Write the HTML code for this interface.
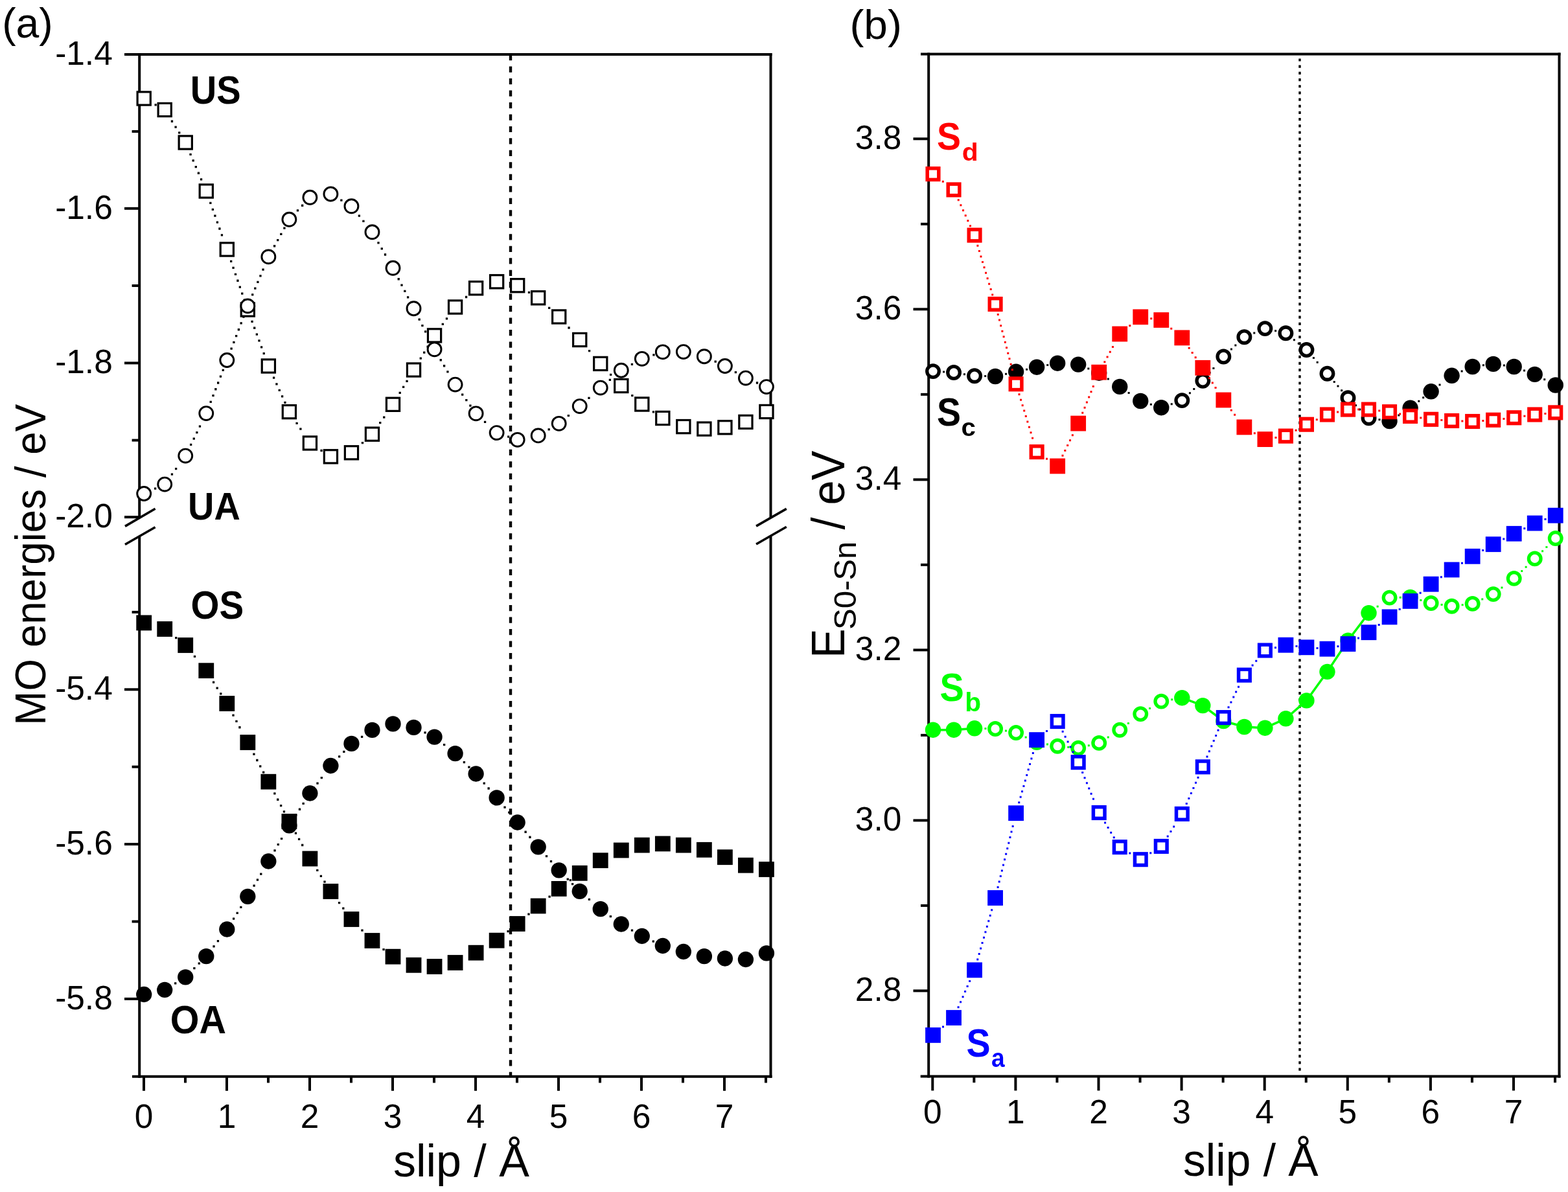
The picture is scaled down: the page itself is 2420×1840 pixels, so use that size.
<!DOCTYPE html><html><head><meta charset="utf-8"><title>slip MO energies</title><style>html,body{margin:0;padding:0;background:#fff;}svg{display:block;}</style></head><body><svg xmlns="http://www.w3.org/2000/svg" width="2420" height="1840" viewBox="0 0 2420 1840"><rect width="2420" height="1840" fill="#fff"/><line x1="788" y1="84" x2="788" y2="1660" stroke="#000" stroke-width="4.4" stroke-dasharray="9.24 9.24"/><g stroke="#000" stroke-width="4" fill="none" stroke-linecap="butt"><line x1="192" y1="84" x2="1191.5" y2="84"/><line x1="204" y1="1661.8" x2="1191.5" y2="1661.8"/><line x1="215.2" y1="82" x2="215.2" y2="799.6"/><line x1="215.2" y1="827.9" x2="215.2" y2="1663.8"/><line x1="1189.5" y1="82" x2="1189.5" y2="799.3"/><line x1="1189.5" y1="827" x2="1189.5" y2="1663.8"/><line x1="193" y1="812.4" x2="239.6" y2="785.2" stroke-width="3.6"/><line x1="193" y1="840.5" x2="239.6" y2="813.8" stroke-width="3.6"/><line x1="1167.1" y1="812.1" x2="1213.8" y2="785.4" stroke-width="3.6"/><line x1="1167.1" y1="840" x2="1213.8" y2="813.3" stroke-width="3.6"/><line x1="203.6" y1="202.9" x2="215.2" y2="202.9"/><line x1="192" y1="321.8" x2="215.2" y2="321.8"/><line x1="203.6" y1="441" x2="215.2" y2="441"/><line x1="192" y1="560.4" x2="215.2" y2="560.4"/><line x1="203.6" y1="679.6" x2="215.2" y2="679.6"/><line x1="192" y1="798.2" x2="215.2" y2="798.2"/><line x1="203.6" y1="944.9" x2="215.2" y2="944.9"/><line x1="192" y1="1064.3" x2="215.2" y2="1064.3"/><line x1="203.6" y1="1183.7" x2="215.2" y2="1183.7"/><line x1="192" y1="1303.1" x2="215.2" y2="1303.1"/><line x1="203.6" y1="1422.5" x2="215.2" y2="1422.5"/><line x1="192" y1="1541.9" x2="215.2" y2="1541.9"/><line x1="222" y1="1661.8" x2="222" y2="1683.8"/><line x1="286" y1="1661.8" x2="286" y2="1671.5"/><line x1="350" y1="1661.8" x2="350" y2="1683.8"/><line x1="414" y1="1661.8" x2="414" y2="1671.5"/><line x1="478" y1="1661.8" x2="478" y2="1683.8"/><line x1="542" y1="1661.8" x2="542" y2="1671.5"/><line x1="606" y1="1661.8" x2="606" y2="1683.8"/><line x1="670" y1="1661.8" x2="670" y2="1671.5"/><line x1="734" y1="1661.8" x2="734" y2="1683.8"/><line x1="798" y1="1661.8" x2="798" y2="1671.5"/><line x1="862" y1="1661.8" x2="862" y2="1683.8"/><line x1="926" y1="1661.8" x2="926" y2="1671.5"/><line x1="990" y1="1661.8" x2="990" y2="1683.8"/><line x1="1054" y1="1661.8" x2="1054" y2="1671.5"/><line x1="1118" y1="1661.8" x2="1118" y2="1683.8"/><line x1="1182" y1="1661.8" x2="1182" y2="1671.5"/></g><path fill="#000" d="M238.52 160.17h3.3v3.3h-3.3zM263.82 185.59h3.3v3.3h-3.3zM269.45 194.46h3.3v3.3h-3.3zM275.07 203.32h3.3v3.3h-3.3zM292.4 236.63h3.3v3.3h-3.3zM296.53 246.28h3.3v3.3h-3.3zM300.65 255.94h3.3v3.3h-3.3zM304.77 265.6h3.3v3.3h-3.3zM308.9 275.25h3.3v3.3h-3.3zM323.19 311.79h3.3v3.3h-3.3zM326.71 321.68h3.3v3.3h-3.3zM330.23 331.57h3.3v3.3h-3.3zM333.75 341.46h3.3v3.3h-3.3zM337.27 351.36h3.3v3.3h-3.3zM340.79 361.25h3.3v3.3h-3.3zM355.01 401.81h3.3v3.3h-3.3zM358.43 411.74h3.3v3.3h-3.3zM361.84 421.67h3.3v3.3h-3.3zM365.26 431.59h3.3v3.3h-3.3zM368.68 441.52h3.3v3.3h-3.3zM372.1 451.45h3.3v3.3h-3.3zM375.52 461.38h3.3v3.3h-3.3zM387.45 494.76h3.3v3.3h-3.3zM391.08 504.61h3.3v3.3h-3.3zM394.71 514.47h3.3v3.3h-3.3zM398.33 524.32h3.3v3.3h-3.3zM401.96 534.17h3.3v3.3h-3.3zM405.59 544.03h3.3v3.3h-3.3zM420.95 581.56h3.3v3.3h-3.3zM425.28 591.13h3.3v3.3h-3.3zM429.61 600.69h3.3v3.3h-3.3zM433.95 610.26h3.3v3.3h-3.3zM438.28 619.82h3.3v3.3h-3.3zM456.43 651.71h3.3v3.3h-3.3zM462.24 660.46h3.3v3.3h-3.3zM494.45 693.84h3.3v3.3h-3.3zM557.83 681.94h3.3v3.3h-3.3zM585.08 650.99h3.3v3.3h-3.3zM591.09 642.38h3.3v3.3h-3.3zM615.56 604.82h3.3v3.3h-3.3zM620.97 595.82h3.3v3.3h-3.3zM626.38 586.82h3.3v3.3h-3.3zM647.62 551.53h3.3v3.3h-3.3zM653.05 542.54h3.3v3.3h-3.3zM658.47 533.54h3.3v3.3h-3.3zM681.65 498.77h3.3v3.3h-3.3zM687.84 490.29h3.3v3.3h-3.3zM717.91 456.86h3.3v3.3h-3.3zM814.84 449.69h3.3v3.3h-3.3zM846.01 473.64h3.3v3.3h-3.3zM876.39 504.36h3.3v3.3h-3.3zM907.92 539.95h3.3v3.3h-3.3zM940.98 576.66h3.3v3.3h-3.3zM974.17 609.02h3.3v3.3h-3.3zM1006.79 634.19h3.3v3.3h-3.3z"/><path fill="#000" d="M237.95 752.53h3.3v3.3h-3.3zM263.8 730.53h3.3v3.3h-3.3zM269.98 722.04h3.3v3.3h-3.3zM292.98 684.81h3.3v3.3h-3.3zM297.59 675.38h3.3v3.3h-3.3zM302.2 665.95h3.3v3.3h-3.3zM306.81 656.51h3.3v3.3h-3.3zM323.56 618.68h3.3v3.3h-3.3zM327.37 608.9h3.3v3.3h-3.3zM331.19 599.11h3.3v3.3h-3.3zM335 589.33h3.3v3.3h-3.3zM338.82 579.55h3.3v3.3h-3.3zM342.64 569.77h3.3v3.3h-3.3zM355.47 536.54h3.3v3.3h-3.3zM359.23 526.73h3.3v3.3h-3.3zM362.99 516.93h3.3v3.3h-3.3zM366.74 507.12h3.3v3.3h-3.3zM370.5 497.32h3.3v3.3h-3.3zM374.25 487.51h3.3v3.3h-3.3zM388.08 453.17h3.3v3.3h-3.3zM392.16 443.5h3.3v3.3h-3.3zM396.24 433.82h3.3v3.3h-3.3zM400.31 424.14h3.3v3.3h-3.3zM404.39 414.47h3.3v3.3h-3.3zM421.97 378.08h3.3v3.3h-3.3zM427.07 368.9h3.3v3.3h-3.3zM432.17 359.72h3.3v3.3h-3.3zM437.28 350.55h3.3v3.3h-3.3zM457.8 323.26h3.3v3.3h-3.3zM465 315.62h3.3v3.3h-3.3zM525.22 307.51h3.3v3.3h-3.3zM552.72 331.54h3.3v3.3h-3.3zM559.28 339.74h3.3v3.3h-3.3zM582.36 373.17h3.3v3.3h-3.3zM587.61 382.27h3.3v3.3h-3.3zM592.85 391.36h3.3v3.3h-3.3zM613.56 429.12h3.3v3.3h-3.3zM618.35 438.46h3.3v3.3h-3.3zM623.15 447.8h3.3v3.3h-3.3zM627.94 457.15h3.3v3.3h-3.3zM645.51 491.56h3.3v3.3h-3.3zM650.26 500.92h3.3v3.3h-3.3zM655.01 510.29h3.3v3.3h-3.3zM659.76 519.65h3.3v3.3h-3.3zM678.59 554.08h3.3v3.3h-3.3zM683.92 563.12h3.3v3.3h-3.3zM689.26 572.17h3.3v3.3h-3.3zM712.03 607.46h3.3v3.3h-3.3zM718.15 615.99h3.3v3.3h-3.3zM724.26 624.53h3.3v3.3h-3.3zM746.91 649.64h3.3v3.3h-3.3zM783.07 672.49h3.3v3.3h-3.3zM845.52 661.17h3.3v3.3h-3.3zM875.7 639.94h3.3v3.3h-3.3zM907.32 612.77h3.3v3.3h-3.3zM939.71 584.68h3.3v3.3h-3.3zM973.78 560.74h3.3v3.3h-3.3zM1007.28 546.21h3.3v3.3h-3.3zM1102.54 556.55h3.3v3.3h-3.3zM1133.74 572.93h3.3v3.3h-3.3zM1166.85 589.36h3.3v3.3h-3.3z"/><path fill="#000" d="M270.11 983.04h3.3v3.3h-3.3zM298.85 1011.79h3.3v3.3h-3.3zM327.94 1051.5h3.3v3.3h-3.3zM333.54 1060.38h3.3v3.3h-3.3zM339.14 1069.26h3.3v3.3h-3.3zM358.37 1102.56h3.3v3.3h-3.3zM363.31 1111.82h3.3v3.3h-3.3zM368.26 1121.08h3.3v3.3h-3.3zM390.29 1162.57h3.3v3.3h-3.3zM395.19 1171.86h3.3v3.3h-3.3zM400.09 1181.15h3.3v3.3h-3.3zM404.99 1190.43h3.3v3.3h-3.3zM422.23 1223.29h3.3v3.3h-3.3zM427.09 1232.59h3.3v3.3h-3.3zM431.95 1241.9h3.3v3.3h-3.3zM436.81 1251.21h3.3v3.3h-3.3zM454.83 1284.5h3.3v3.3h-3.3zM459.94 1293.67h3.3v3.3h-3.3zM465.05 1302.84h3.3v3.3h-3.3zM488.13 1341.79h3.3v3.3h-3.3zM493.75 1350.66h3.3v3.3h-3.3zM499.37 1359.52h3.3v3.3h-3.3zM521.91 1391.98h3.3v3.3h-3.3zM528.18 1400.41h3.3v3.3h-3.3zM557.33 1434.38h3.3v3.3h-3.3zM590.39 1463.89h3.3v3.3h-3.3zM782.45 1436.03h3.3v3.3h-3.3zM814.32 1409.47h3.3v3.3h-3.3zM846.43 1382.4h3.3v3.3h-3.3zM878.66 1357h3.3v3.3h-3.3z"/><path fill="#000" d="M269.04 1516.18h3.3v3.3h-3.3zM298.23 1492.99h3.3v3.3h-3.3zM305.65 1485.55h3.3v3.3h-3.3zM328.38 1459.24h3.3v3.3h-3.3zM334.78 1450.92h3.3v3.3h-3.3zM358.96 1416.53h3.3v3.3h-3.3zM364.56 1407.66h3.3v3.3h-3.3zM370.17 1398.78h3.3v3.3h-3.3zM390.48 1365.53h3.3v3.3h-3.3zM395.81 1356.48h3.3v3.3h-3.3zM401.15 1347.44h3.3v3.3h-3.3zM422.39 1311.16h3.3v3.3h-3.3zM427.65 1302.07h3.3v3.3h-3.3zM432.92 1292.99h3.3v3.3h-3.3zM455.16 1256.42h3.3v3.3h-3.3zM460.84 1247.59h3.3v3.3h-3.3zM466.52 1238.75h3.3v3.3h-3.3zM488.36 1207.44h3.3v3.3h-3.3zM494.68 1199.05h3.3v3.3h-3.3zM521.99 1166.28h3.3v3.3h-3.3zM529.18 1158.63h3.3v3.3h-3.3zM556.94 1135.67h3.3v3.3h-3.3zM654.42 1129.3h3.3v3.3h-3.3zM683.98 1148h3.3v3.3h-3.3zM714.73 1175.04h3.3v3.3h-3.3zM722.24 1182.38h3.3v3.3h-3.3zM745.6 1207.43h3.3v3.3h-3.3zM752.48 1215.36h3.3v3.3h-3.3zM777.39 1244.52h3.3v3.3h-3.3zM784.15 1252.56h3.3v3.3h-3.3zM809.48 1282.58h3.3v3.3h-3.3zM816.26 1290.59h3.3v3.3h-3.3zM841.85 1320.07h3.3v3.3h-3.3zM848.83 1327.92h3.3v3.3h-3.3zM874.6 1355.4h3.3v3.3h-3.3zM881.97 1362.88h3.3v3.3h-3.3zM907.74 1386.7h3.3v3.3h-3.3zM940.71 1412.9h3.3v3.3h-3.3zM973.84 1434.5h3.3v3.3h-3.3zM1006.63 1451.54h3.3v3.3h-3.3z"/><rect x="212.1" y="141.9" width="20.2" height="20.2" fill="#fff" stroke="#000" stroke-width="3.2"/><rect x="244.12" y="159.4" width="20.2" height="20.2" fill="#fff" stroke="#000" stroke-width="3.2"/><rect x="276.15" y="209.9" width="20.2" height="20.2" fill="#fff" stroke="#000" stroke-width="3.2"/><rect x="308.17" y="284.9" width="20.2" height="20.2" fill="#fff" stroke="#000" stroke-width="3.2"/><rect x="340.2" y="374.9" width="20.2" height="20.2" fill="#fff" stroke="#000" stroke-width="3.2"/><rect x="372.22" y="467.9" width="20.2" height="20.2" fill="#fff" stroke="#000" stroke-width="3.2"/><rect x="404.25" y="554.9" width="20.2" height="20.2" fill="#fff" stroke="#000" stroke-width="3.2"/><rect x="436.27" y="625.6" width="20.2" height="20.2" fill="#fff" stroke="#000" stroke-width="3.2"/><rect x="468.3" y="673.9" width="20.2" height="20.2" fill="#fff" stroke="#000" stroke-width="3.2"/><rect x="500.32" y="694.7" width="20.2" height="20.2" fill="#fff" stroke="#000" stroke-width="3.2"/><rect x="532.35" y="688.7" width="20.2" height="20.2" fill="#fff" stroke="#000" stroke-width="3.2"/><rect x="564.37" y="660.1" width="20.2" height="20.2" fill="#fff" stroke="#000" stroke-width="3.2"/><rect x="596.4" y="614.2" width="20.2" height="20.2" fill="#fff" stroke="#000" stroke-width="3.2"/><rect x="628.42" y="560.9" width="20.2" height="20.2" fill="#fff" stroke="#000" stroke-width="3.2"/><rect x="660.45" y="507.8" width="20.2" height="20.2" fill="#fff" stroke="#000" stroke-width="3.2"/><rect x="692.48" y="463.9" width="20.2" height="20.2" fill="#fff" stroke="#000" stroke-width="3.2"/><rect x="724.5" y="434.7" width="20.2" height="20.2" fill="#fff" stroke="#000" stroke-width="3.2"/><rect x="756.52" y="424.7" width="20.2" height="20.2" fill="#fff" stroke="#000" stroke-width="3.2"/><rect x="788.55" y="430.6" width="20.2" height="20.2" fill="#fff" stroke="#000" stroke-width="3.2"/><rect x="820.57" y="449.7" width="20.2" height="20.2" fill="#fff" stroke="#000" stroke-width="3.2"/><rect x="852.6" y="478.9" width="20.2" height="20.2" fill="#fff" stroke="#000" stroke-width="3.2"/><rect x="884.62" y="514.4" width="20.2" height="20.2" fill="#fff" stroke="#000" stroke-width="3.2"/><rect x="916.65" y="551.3" width="20.2" height="20.2" fill="#fff" stroke="#000" stroke-width="3.2"/><rect x="948.67" y="585.4" width="20.2" height="20.2" fill="#fff" stroke="#000" stroke-width="3.2"/><rect x="980.7" y="613.9" width="20.2" height="20.2" fill="#fff" stroke="#000" stroke-width="3.2"/><rect x="1012.73" y="635.4" width="20.2" height="20.2" fill="#fff" stroke="#000" stroke-width="3.2"/><rect x="1044.75" y="648.5" width="20.2" height="20.2" fill="#fff" stroke="#000" stroke-width="3.2"/><rect x="1076.78" y="652" width="20.2" height="20.2" fill="#fff" stroke="#000" stroke-width="3.2"/><rect x="1108.8" y="649.7" width="20.2" height="20.2" fill="#fff" stroke="#000" stroke-width="3.2"/><rect x="1140.83" y="641.3" width="20.2" height="20.2" fill="#fff" stroke="#000" stroke-width="3.2"/><rect x="1172.85" y="625.4" width="20.2" height="20.2" fill="#fff" stroke="#000" stroke-width="3.2"/><circle cx="222.2" cy="762" r="10.45" fill="#fff" stroke="#000" stroke-width="2.95"/><circle cx="254.22" cy="747.6" r="10.45" fill="#fff" stroke="#000" stroke-width="2.95"/><circle cx="286.25" cy="703.6" r="10.45" fill="#fff" stroke="#000" stroke-width="2.95"/><circle cx="318.27" cy="638.1" r="10.45" fill="#fff" stroke="#000" stroke-width="2.95"/><circle cx="350.3" cy="556" r="10.45" fill="#fff" stroke="#000" stroke-width="2.95"/><circle cx="382.32" cy="472.4" r="10.45" fill="#fff" stroke="#000" stroke-width="2.95"/><circle cx="414.35" cy="396.4" r="10.45" fill="#fff" stroke="#000" stroke-width="2.95"/><circle cx="446.38" cy="338.8" r="10.45" fill="#fff" stroke="#000" stroke-width="2.95"/><circle cx="478.4" cy="304.8" r="10.45" fill="#fff" stroke="#000" stroke-width="2.95"/><circle cx="510.42" cy="299.5" r="10.45" fill="#fff" stroke="#000" stroke-width="2.95"/><circle cx="542.45" cy="318.3" r="10.45" fill="#fff" stroke="#000" stroke-width="2.95"/><circle cx="574.47" cy="358.3" r="10.45" fill="#fff" stroke="#000" stroke-width="2.95"/><circle cx="606.5" cy="413.8" r="10.45" fill="#fff" stroke="#000" stroke-width="2.95"/><circle cx="638.52" cy="476.2" r="10.45" fill="#fff" stroke="#000" stroke-width="2.95"/><circle cx="670.55" cy="539.3" r="10.45" fill="#fff" stroke="#000" stroke-width="2.95"/><circle cx="702.58" cy="593.6" r="10.45" fill="#fff" stroke="#000" stroke-width="2.95"/><circle cx="734.6" cy="638.3" r="10.45" fill="#fff" stroke="#000" stroke-width="2.95"/><circle cx="766.62" cy="668.1" r="10.45" fill="#fff" stroke="#000" stroke-width="2.95"/><circle cx="798.65" cy="678.8" r="10.45" fill="#fff" stroke="#000" stroke-width="2.95"/><circle cx="830.67" cy="672.4" r="10.45" fill="#fff" stroke="#000" stroke-width="2.95"/><circle cx="862.7" cy="653.8" r="10.45" fill="#fff" stroke="#000" stroke-width="2.95"/><circle cx="894.72" cy="627.1" r="10.45" fill="#fff" stroke="#000" stroke-width="2.95"/><circle cx="926.75" cy="598.6" r="10.45" fill="#fff" stroke="#000" stroke-width="2.95"/><circle cx="958.77" cy="571.7" r="10.45" fill="#fff" stroke="#000" stroke-width="2.95"/><circle cx="990.8" cy="553.8" r="10.45" fill="#fff" stroke="#000" stroke-width="2.95"/><circle cx="1022.83" cy="543.3" r="10.45" fill="#fff" stroke="#000" stroke-width="2.95"/><circle cx="1054.85" cy="543.1" r="10.45" fill="#fff" stroke="#000" stroke-width="2.95"/><circle cx="1086.88" cy="550.2" r="10.45" fill="#fff" stroke="#000" stroke-width="2.95"/><circle cx="1118.9" cy="565" r="10.45" fill="#fff" stroke="#000" stroke-width="2.95"/><circle cx="1150.92" cy="583.6" r="10.45" fill="#fff" stroke="#000" stroke-width="2.95"/><circle cx="1182.95" cy="597.1" r="10.45" fill="#fff" stroke="#000" stroke-width="2.95"/><rect x="210.3" y="949.5" width="23.8" height="23.8" fill="#000"/><rect x="242.32" y="959.1" width="23.8" height="23.8" fill="#000"/><rect x="274.35" y="984.1" width="23.8" height="23.8" fill="#000"/><rect x="306.38" y="1023.3" width="23.8" height="23.8" fill="#000"/><rect x="338.4" y="1074.1" width="23.8" height="23.8" fill="#000"/><rect x="370.43" y="1134.1" width="23.8" height="23.8" fill="#000"/><rect x="402.45" y="1194.8" width="23.8" height="23.8" fill="#000"/><rect x="434.48" y="1256.1" width="23.8" height="23.8" fill="#000"/><rect x="466.5" y="1313.6" width="23.8" height="23.8" fill="#000"/><rect x="498.52" y="1364.1" width="23.8" height="23.8" fill="#000"/><rect x="530.55" y="1407.1" width="23.8" height="23.8" fill="#000"/><rect x="562.57" y="1440.1" width="23.8" height="23.8" fill="#000"/><rect x="594.6" y="1464.8" width="23.8" height="23.8" fill="#000"/><rect x="626.62" y="1477.9" width="23.8" height="23.8" fill="#000"/><rect x="658.65" y="1480.1" width="23.8" height="23.8" fill="#000"/><rect x="690.68" y="1474.1" width="23.8" height="23.8" fill="#000"/><rect x="722.7" y="1458.8" width="23.8" height="23.8" fill="#000"/><rect x="754.73" y="1439.8" width="23.8" height="23.8" fill="#000"/><rect x="786.75" y="1414.1" width="23.8" height="23.8" fill="#000"/><rect x="818.77" y="1386.6" width="23.8" height="23.8" fill="#000"/><rect x="850.8" y="1360" width="23.8" height="23.8" fill="#000"/><rect x="882.82" y="1335.9" width="23.8" height="23.8" fill="#000"/><rect x="914.85" y="1316.3" width="23.8" height="23.8" fill="#000"/><rect x="946.87" y="1300.6" width="23.8" height="23.8" fill="#000"/><rect x="978.9" y="1292.7" width="23.8" height="23.8" fill="#000"/><rect x="1010.93" y="1290.5" width="23.8" height="23.8" fill="#000"/><rect x="1042.95" y="1292.7" width="23.8" height="23.8" fill="#000"/><rect x="1074.97" y="1299.9" width="23.8" height="23.8" fill="#000"/><rect x="1107" y="1311.3" width="23.8" height="23.8" fill="#000"/><rect x="1139.02" y="1323.8" width="23.8" height="23.8" fill="#000"/><rect x="1171.05" y="1330.1" width="23.8" height="23.8" fill="#000"/><circle cx="222.2" cy="1535" r="12.15" fill="#000"/><circle cx="254.22" cy="1527.9" r="12.15" fill="#000"/><circle cx="286.25" cy="1508.3" r="12.15" fill="#000"/><circle cx="318.27" cy="1476.2" r="12.15" fill="#000"/><circle cx="350.3" cy="1434.5" r="12.15" fill="#000"/><circle cx="382.32" cy="1383.8" r="12.15" fill="#000"/><circle cx="414.35" cy="1329.5" r="12.15" fill="#000"/><circle cx="446.38" cy="1274.3" r="12.15" fill="#000"/><circle cx="478.4" cy="1224.5" r="12.15" fill="#000"/><circle cx="510.42" cy="1182" r="12.15" fill="#000"/><circle cx="542.45" cy="1147.9" r="12.15" fill="#000"/><circle cx="574.47" cy="1126.9" r="12.15" fill="#000"/><circle cx="606.5" cy="1117.4" r="12.15" fill="#000"/><circle cx="638.52" cy="1122.9" r="12.15" fill="#000"/><circle cx="670.55" cy="1137.6" r="12.15" fill="#000"/><circle cx="702.58" cy="1163.2" r="12.15" fill="#000"/><circle cx="734.6" cy="1194.5" r="12.15" fill="#000"/><circle cx="766.62" cy="1231.4" r="12.15" fill="#000"/><circle cx="798.65" cy="1269.5" r="12.15" fill="#000"/><circle cx="830.67" cy="1307.3" r="12.15" fill="#000"/><circle cx="862.7" cy="1343.3" r="12.15" fill="#000"/><circle cx="894.72" cy="1375.8" r="12.15" fill="#000"/><circle cx="926.75" cy="1403.2" r="12.15" fill="#000"/><circle cx="958.77" cy="1426.5" r="12.15" fill="#000"/><circle cx="990.8" cy="1445" r="12.15" fill="#000"/><circle cx="1022.83" cy="1460" r="12.15" fill="#000"/><circle cx="1054.85" cy="1469" r="12.15" fill="#000"/><circle cx="1086.88" cy="1476.2" r="12.15" fill="#000"/><circle cx="1118.9" cy="1479.5" r="12.15" fill="#000"/><circle cx="1150.92" cy="1481" r="12.15" fill="#000"/><circle cx="1182.95" cy="1471.4" r="12.15" fill="#000"/><path fill="#000" d="M2004.3 90.4h3.4v4.2h-3.4zM2004.3 100.58h3.4v4.2h-3.4zM2004.3 110.77h3.4v4.2h-3.4zM2004.3 120.95h3.4v4.2h-3.4zM2004.3 131.14h3.4v4.2h-3.4zM2004.3 141.32h3.4v4.2h-3.4zM2004.3 151.5h3.4v4.2h-3.4zM2004.3 161.69h3.4v4.2h-3.4zM2004.3 171.87h3.4v4.2h-3.4zM2004.3 182.06h3.4v4.2h-3.4zM2004.3 192.24h3.4v4.2h-3.4zM2004.3 202.42h3.4v4.2h-3.4zM2004.3 212.61h3.4v4.2h-3.4zM2004.3 222.79h3.4v4.2h-3.4zM2004.3 232.98h3.4v4.2h-3.4zM2004.3 243.16h3.4v4.2h-3.4zM2004.3 253.34h3.4v4.2h-3.4zM2004.3 263.53h3.4v4.2h-3.4zM2004.3 273.71h3.4v4.2h-3.4zM2004.3 283.9h3.4v4.2h-3.4zM2004.3 294.08h3.4v4.2h-3.4zM2004.3 304.26h3.4v4.2h-3.4zM2004.3 314.45h3.4v4.2h-3.4zM2004.3 324.63h3.4v4.2h-3.4zM2004.3 334.82h3.4v4.2h-3.4zM2004.3 345h3.4v4.2h-3.4zM2004.3 355.18h3.4v4.2h-3.4zM2004.3 365.37h3.4v4.2h-3.4zM2004.3 375.55h3.4v4.2h-3.4zM2004.3 385.74h3.4v4.2h-3.4zM2004.3 395.92h3.4v4.2h-3.4zM2004.3 406.1h3.4v4.2h-3.4zM2004.3 416.29h3.4v4.2h-3.4zM2004.3 426.47h3.4v4.2h-3.4zM2004.3 436.66h3.4v4.2h-3.4zM2004.3 446.84h3.4v4.2h-3.4zM2004.3 457.02h3.4v4.2h-3.4zM2004.3 467.21h3.4v4.2h-3.4zM2004.3 477.39h3.4v4.2h-3.4zM2004.3 487.58h3.4v4.2h-3.4zM2004.3 497.76h3.4v4.2h-3.4zM2004.3 507.94h3.4v4.2h-3.4zM2004.3 518.13h3.4v4.2h-3.4zM2004.3 528.31h3.4v4.2h-3.4zM2004.3 538.5h3.4v4.2h-3.4zM2004.3 548.68h3.4v4.2h-3.4zM2004.3 558.86h3.4v4.2h-3.4zM2004.3 569.05h3.4v4.2h-3.4zM2004.3 579.23h3.4v4.2h-3.4zM2004.3 589.42h3.4v4.2h-3.4zM2004.3 599.6h3.4v4.2h-3.4zM2004.3 609.78h3.4v4.2h-3.4zM2004.3 619.97h3.4v4.2h-3.4zM2004.3 630.15h3.4v4.2h-3.4zM2004.3 640.34h3.4v4.2h-3.4zM2004.3 650.52h3.4v4.2h-3.4zM2004.3 660.7h3.4v4.2h-3.4zM2004.3 670.89h3.4v4.2h-3.4zM2004.3 681.07h3.4v4.2h-3.4zM2004.3 691.26h3.4v4.2h-3.4zM2004.3 701.44h3.4v4.2h-3.4zM2004.3 711.62h3.4v4.2h-3.4zM2004.3 721.81h3.4v4.2h-3.4zM2004.3 731.99h3.4v4.2h-3.4zM2004.3 742.18h3.4v4.2h-3.4zM2004.3 752.36h3.4v4.2h-3.4zM2004.3 762.54h3.4v4.2h-3.4zM2004.3 772.73h3.4v4.2h-3.4zM2004.3 782.91h3.4v4.2h-3.4zM2004.3 793.1h3.4v4.2h-3.4zM2004.3 803.28h3.4v4.2h-3.4zM2004.3 813.46h3.4v4.2h-3.4zM2004.3 823.65h3.4v4.2h-3.4zM2004.3 833.83h3.4v4.2h-3.4zM2004.3 844.02h3.4v4.2h-3.4zM2004.3 854.2h3.4v4.2h-3.4zM2004.3 864.38h3.4v4.2h-3.4zM2004.3 874.57h3.4v4.2h-3.4zM2004.3 884.75h3.4v4.2h-3.4zM2004.3 894.94h3.4v4.2h-3.4zM2004.3 905.12h3.4v4.2h-3.4zM2004.3 915.3h3.4v4.2h-3.4zM2004.3 925.49h3.4v4.2h-3.4zM2004.3 935.67h3.4v4.2h-3.4zM2004.3 945.86h3.4v4.2h-3.4zM2004.3 956.04h3.4v4.2h-3.4zM2004.3 966.22h3.4v4.2h-3.4zM2004.3 976.41h3.4v4.2h-3.4zM2004.3 986.59h3.4v4.2h-3.4zM2004.3 996.78h3.4v4.2h-3.4zM2004.3 1006.96h3.4v4.2h-3.4zM2004.3 1017.14h3.4v4.2h-3.4zM2004.3 1027.33h3.4v4.2h-3.4zM2004.3 1037.51h3.4v4.2h-3.4zM2004.3 1047.7h3.4v4.2h-3.4zM2004.3 1057.88h3.4v4.2h-3.4zM2004.3 1068.06h3.4v4.2h-3.4zM2004.3 1078.25h3.4v4.2h-3.4zM2004.3 1088.43h3.4v4.2h-3.4zM2004.3 1098.62h3.4v4.2h-3.4zM2004.3 1108.8h3.4v4.2h-3.4zM2004.3 1118.98h3.4v4.2h-3.4zM2004.3 1129.17h3.4v4.2h-3.4zM2004.3 1139.35h3.4v4.2h-3.4zM2004.3 1149.54h3.4v4.2h-3.4zM2004.3 1159.72h3.4v4.2h-3.4zM2004.3 1169.9h3.4v4.2h-3.4zM2004.3 1180.09h3.4v4.2h-3.4zM2004.3 1190.27h3.4v4.2h-3.4zM2004.3 1200.46h3.4v4.2h-3.4zM2004.3 1210.64h3.4v4.2h-3.4zM2004.3 1220.82h3.4v4.2h-3.4zM2004.3 1231.01h3.4v4.2h-3.4zM2004.3 1241.19h3.4v4.2h-3.4zM2004.3 1251.38h3.4v4.2h-3.4zM2004.3 1261.56h3.4v4.2h-3.4zM2004.3 1271.74h3.4v4.2h-3.4zM2004.3 1281.93h3.4v4.2h-3.4zM2004.3 1292.11h3.4v4.2h-3.4zM2004.3 1302.3h3.4v4.2h-3.4zM2004.3 1312.48h3.4v4.2h-3.4zM2004.3 1322.66h3.4v4.2h-3.4zM2004.3 1332.85h3.4v4.2h-3.4zM2004.3 1343.03h3.4v4.2h-3.4zM2004.3 1353.22h3.4v4.2h-3.4zM2004.3 1363.4h3.4v4.2h-3.4zM2004.3 1373.58h3.4v4.2h-3.4zM2004.3 1383.77h3.4v4.2h-3.4zM2004.3 1393.95h3.4v4.2h-3.4zM2004.3 1404.14h3.4v4.2h-3.4zM2004.3 1414.32h3.4v4.2h-3.4zM2004.3 1424.5h3.4v4.2h-3.4zM2004.3 1434.69h3.4v4.2h-3.4zM2004.3 1444.87h3.4v4.2h-3.4zM2004.3 1455.06h3.4v4.2h-3.4zM2004.3 1465.24h3.4v4.2h-3.4zM2004.3 1475.42h3.4v4.2h-3.4zM2004.3 1485.61h3.4v4.2h-3.4zM2004.3 1495.79h3.4v4.2h-3.4zM2004.3 1505.98h3.4v4.2h-3.4zM2004.3 1516.16h3.4v4.2h-3.4zM2004.3 1526.34h3.4v4.2h-3.4zM2004.3 1536.53h3.4v4.2h-3.4zM2004.3 1546.71h3.4v4.2h-3.4zM2004.3 1556.9h3.4v4.2h-3.4zM2004.3 1567.08h3.4v4.2h-3.4zM2004.3 1577.26h3.4v4.2h-3.4zM2004.3 1587.45h3.4v4.2h-3.4zM2004.3 1597.63h3.4v4.2h-3.4zM2004.3 1607.82h3.4v4.2h-3.4zM2004.3 1618h3.4v4.2h-3.4zM2004.3 1628.18h3.4v4.2h-3.4zM2004.3 1638.37h3.4v4.2h-3.4zM2004.3 1648.55h3.4v4.2h-3.4z"/><g stroke="#000" stroke-width="4" fill="none"><line x1="1421" y1="83.6" x2="2408.5" y2="83.6"/><line x1="1420.7" y1="1661.5" x2="2408.5" y2="1661.5"/><line x1="1433.2" y1="81.6" x2="1433.2" y2="1663.5"/><line x1="2406.5" y1="81.6" x2="2406.5" y2="1663.5"/><line x1="1409.5" y1="214.3" x2="1433.2" y2="214.3"/><line x1="1421" y1="345.81" x2="1433.2" y2="345.81"/><line x1="1409.5" y1="477.32" x2="1433.2" y2="477.32"/><line x1="1421" y1="608.83" x2="1433.2" y2="608.83"/><line x1="1409.5" y1="740.34" x2="1433.2" y2="740.34"/><line x1="1421" y1="871.85" x2="1433.2" y2="871.85"/><line x1="1409.5" y1="1003.36" x2="1433.2" y2="1003.36"/><line x1="1421" y1="1134.87" x2="1433.2" y2="1134.87"/><line x1="1409.5" y1="1266.38" x2="1433.2" y2="1266.38"/><line x1="1421" y1="1397.89" x2="1433.2" y2="1397.89"/><line x1="1409.5" y1="1529.4" x2="1433.2" y2="1529.4"/><line x1="1439.3" y1="1661.5" x2="1439.3" y2="1683.5"/><line x1="1503.35" y1="1661.5" x2="1503.35" y2="1671.2"/><line x1="1567.4" y1="1661.5" x2="1567.4" y2="1683.5"/><line x1="1631.45" y1="1661.5" x2="1631.45" y2="1671.2"/><line x1="1695.5" y1="1661.5" x2="1695.5" y2="1683.5"/><line x1="1759.55" y1="1661.5" x2="1759.55" y2="1671.2"/><line x1="1823.6" y1="1661.5" x2="1823.6" y2="1683.5"/><line x1="1887.65" y1="1661.5" x2="1887.65" y2="1671.2"/><line x1="1951.7" y1="1661.5" x2="1951.7" y2="1683.5"/><line x1="2015.75" y1="1661.5" x2="2015.75" y2="1671.2"/><line x1="2079.8" y1="1661.5" x2="2079.8" y2="1683.5"/><line x1="2143.85" y1="1661.5" x2="2143.85" y2="1671.2"/><line x1="2207.9" y1="1661.5" x2="2207.9" y2="1683.5"/><line x1="2271.95" y1="1661.5" x2="2271.95" y2="1671.2"/><line x1="2336" y1="1661.5" x2="2336" y2="1683.5"/><line x1="2400.05" y1="1661.5" x2="2400.05" y2="1671.2"/></g><path fill="#000000" d="M1455.12 572.59h3v3h-3zM1486.96 576.17h3v3h-3zM1519.19 579.12h3v3h-3zM1551.06 575.79h3v3h-3zM1583.1 568.64h3v3h-3zM1615.24 562.09h3v3h-3zM1678.32 567.5h3v3h-3zM1708.79 583.53h3v3h-3zM1740.63 605h3v3h-3zM1774.85 622.63h3v3h-3zM1806.74 622.17h3v3h-3zM1834.89 605.16h3v3h-3zM1841.29 599.11h3v3h-3zM1865.67 573.67h3v3h-3zM1871.4 566.99h3v3h-3zM1898.94 537.56h3v3h-3zM1905.34 531.51h3v3h-3zM1934.29 512.4h3v3h-3zM1967.14 509.25h3v3h-3zM1995.91 523.22h3v3h-3zM2002.77 528.73h3v3h-3zM2025.9 551.05h3v3h-3zM2031.68 557.68h3v3h-3zM2057.77 587.88h3v3h-3zM2063.48 594.57h3v3h-3zM2069.18 601.27h3v3h-3zM2090.98 624.36h3v3h-3zM2097.31 630.47h3v3h-3zM2127.49 646.17h3v3h-3zM2157.34 639.48h3v3h-3zM2188.3 617.77h3v3h-3zM2195.18 612.29h3v3h-3zM2220.52 592.53h3v3h-3zM2254.65 571.61h3v3h-3zM2287.91 562.35h3v3h-3zM2319.94 562.55h3v3h-3zM2351.04 570.39h3v3h-3zM2382.23 584.18h3v3h-3z"/><circle cx="1440" cy="573.1" r="9.3" fill="#fff" stroke="#000000" stroke-width="5.3"/><circle cx="1472.03" cy="575" r="9.3" fill="#fff" stroke="#000000" stroke-width="5.3"/><circle cx="1504.05" cy="580.2" r="9.3" fill="#fff" stroke="#000000" stroke-width="5.3"/><circle cx="1536.08" cy="581" r="12.2" fill="#000000"/><circle cx="1568.1" cy="573.8" r="12.2" fill="#000000"/><circle cx="1600.12" cy="566.7" r="12.2" fill="#000000"/><circle cx="1632.15" cy="560.7" r="12.2" fill="#000000"/><circle cx="1664.17" cy="562.6" r="12.2" fill="#000000"/><circle cx="1696.2" cy="575.7" r="12.2" fill="#000000"/><circle cx="1728.22" cy="596.9" r="12.2" fill="#000000"/><circle cx="1760.25" cy="619" r="12.2" fill="#000000"/><circle cx="1792.28" cy="629.2" r="12.2" fill="#000000"/><circle cx="1824.3" cy="618.1" r="9.3" fill="#fff" stroke="#000000" stroke-width="5.3"/><circle cx="1856.33" cy="587.8" r="9.3" fill="#fff" stroke="#000000" stroke-width="5.3"/><circle cx="1888.35" cy="550.5" r="9.3" fill="#fff" stroke="#000000" stroke-width="5.3"/><circle cx="1920.38" cy="520.2" r="9.3" fill="#fff" stroke="#000000" stroke-width="5.3"/><circle cx="1952.4" cy="507.1" r="9.3" fill="#fff" stroke="#000000" stroke-width="5.3"/><circle cx="1984.42" cy="514.3" r="9.3" fill="#fff" stroke="#000000" stroke-width="5.3"/><circle cx="2016.45" cy="540" r="9.3" fill="#fff" stroke="#000000" stroke-width="5.3"/><circle cx="2048.47" cy="576.7" r="9.3" fill="#fff" stroke="#000000" stroke-width="5.3"/><circle cx="2080.5" cy="614.3" r="9.3" fill="#fff" stroke="#000000" stroke-width="5.3"/><circle cx="2112.53" cy="645.2" r="9.3" fill="#fff" stroke="#000000" stroke-width="5.3"/><circle cx="2144.55" cy="650" r="12.2" fill="#000000"/><circle cx="2176.57" cy="629.8" r="12.2" fill="#000000"/><circle cx="2208.6" cy="604.3" r="12.2" fill="#000000"/><circle cx="2240.62" cy="579.8" r="12.2" fill="#000000"/><circle cx="2272.65" cy="566" r="12.2" fill="#000000"/><circle cx="2304.68" cy="561.9" r="12.2" fill="#000000"/><circle cx="2336.7" cy="566" r="12.2" fill="#000000"/><circle cx="2368.72" cy="577.9" r="12.2" fill="#000000"/><circle cx="2400.75" cy="594.5" r="12.2" fill="#000000"/><path fill="#ff0000" d="M1453.79 278.7h3v3h-3zM1477.74 307.23h3v3h-3zM1481.4 315.23h3v3h-3zM1485.05 323.24h3v3h-3zM1488.7 331.24h3v3h-3zM1492.35 339.25h3v3h-3zM1496.01 347.26h3v3h-3zM1507.38 377.65h3v3h-3zM1509.92 386.08h3v3h-3zM1512.45 394.5h3v3h-3zM1514.99 402.93h3v3h-3zM1517.53 411.36h3v3h-3zM1520.06 419.78h3v3h-3zM1522.6 428.21h3v3h-3zM1525.14 436.64h3v3h-3zM1527.67 445.06h3v3h-3zM1530.21 453.49h3v3h-3zM1538.76 484.1h3v3h-3zM1540.97 492.62h3v3h-3zM1543.18 501.13h3v3h-3zM1545.39 509.65h3v3h-3zM1547.61 518.17h3v3h-3zM1549.82 526.69h3v3h-3zM1552.03 535.2h3v3h-3zM1554.24 543.72h3v3h-3zM1556.45 552.24h3v3h-3zM1558.67 560.76h3v3h-3zM1560.88 569.27h3v3h-3zM1571.5 607.34h3v3h-3zM1574.07 615.76h3v3h-3zM1576.65 624.18h3v3h-3zM1579.22 632.59h3v3h-3zM1581.79 641.01h3v3h-3zM1584.36 649.42h3v3h-3zM1586.93 657.84h3v3h-3zM1589.51 666.26h3v3h-3zM1592.08 674.67h3v3h-3zM1614.05 706.65h3v3h-3zM1638.49 701.87h3v3h-3zM1642.33 693.96h3v3h-3zM1646.18 686.04h3v3h-3zM1650.03 678.13h3v3h-3zM1653.87 670.21h3v3h-3zM1669.27 635.85h3v3h-3zM1672.58 627.69h3v3h-3zM1675.89 619.54h3v3h-3zM1679.2 611.38h3v3h-3zM1682.51 603.23h3v3h-3zM1685.82 595.08h3v3h-3zM1703.37 557.17h3v3h-3zM1707.56 549.43h3v3h-3zM1711.75 541.69h3v3h-3zM1715.93 533.95h3v3h-3zM1742.26 501.29h3v3h-3zM1775.3 490.23h3v3h-3zM1806.25 505.74h3v3h-3zM1833.68 535.67h3v3h-3zM1838.68 542.91h3v3h-3zM1843.68 550.15h3v3h-3zM1865.04 582.15h3v3h-3zM1869.81 589.55h3v3h-3zM1874.57 596.95h3v3h-3zM1898.8 631.63h3v3h-3zM1904.14 638.63h3v3h-3zM1934.83 667.22h3v3h-3zM1967.44 674.02h3v3h-3zM1998.58 662.85h3v3h-3zM2030.75 646.2h3v3h-3zM2063.09 634.53h3v3h-3zM2095.25 630.6h3v3h-3zM2127.25 632.42h3v3h-3zM2159.2 637.58h3v3h-3zM2191.27 643.38h3v3h-3zM2223.34 646.92h3v3h-3zM2255.37 648.51h3v3h-3zM2287.39 647.88h3v3h-3zM2319.4 645.03h3v3h-3zM2351.4 640.87h3v3h-3zM2383.45 636.93h3v3h-3z"/><rect x="1431.2" y="259.8" width="17.6" height="17.6" fill="#fff" stroke="#ff0000" stroke-width="5.5"/><rect x="1463.23" y="284.1" width="17.6" height="17.6" fill="#fff" stroke="#ff0000" stroke-width="5.5"/><rect x="1495.25" y="354.3" width="17.6" height="17.6" fill="#fff" stroke="#ff0000" stroke-width="5.5"/><rect x="1527.28" y="460.7" width="17.6" height="17.6" fill="#fff" stroke="#ff0000" stroke-width="5.5"/><rect x="1559.3" y="584" width="17.6" height="17.6" fill="#fff" stroke="#ff0000" stroke-width="5.5"/><rect x="1591.33" y="688.8" width="17.6" height="17.6" fill="#fff" stroke="#ff0000" stroke-width="5.5"/><rect x="1620.25" y="707.6" width="23.8" height="23.8" fill="#ff0000"/><rect x="1652.27" y="641.7" width="23.8" height="23.8" fill="#ff0000"/><rect x="1684.3" y="562.8" width="23.8" height="23.8" fill="#ff0000"/><rect x="1716.32" y="503.6" width="23.8" height="23.8" fill="#ff0000"/><rect x="1748.35" y="477.4" width="23.8" height="23.8" fill="#ff0000"/><rect x="1780.38" y="482.1" width="23.8" height="23.8" fill="#ff0000"/><rect x="1812.4" y="509.5" width="23.8" height="23.8" fill="#ff0000"/><rect x="1844.42" y="555.9" width="23.8" height="23.8" fill="#ff0000"/><rect x="1876.45" y="605.6" width="23.8" height="23.8" fill="#ff0000"/><rect x="1908.47" y="647.5" width="23.8" height="23.8" fill="#ff0000"/><rect x="1940.5" y="666.2" width="23.8" height="23.8" fill="#ff0000"/><rect x="1975.62" y="664.3" width="17.6" height="17.6" fill="#fff" stroke="#ff0000" stroke-width="5.5"/><rect x="2007.65" y="646.4" width="17.6" height="17.6" fill="#fff" stroke="#ff0000" stroke-width="5.5"/><rect x="2039.67" y="631.2" width="17.6" height="17.6" fill="#fff" stroke="#ff0000" stroke-width="5.5"/><rect x="2071.7" y="623.3" width="17.6" height="17.6" fill="#fff" stroke="#ff0000" stroke-width="5.5"/><rect x="2103.72" y="623.3" width="17.6" height="17.6" fill="#fff" stroke="#ff0000" stroke-width="5.5"/><rect x="2135.75" y="626.9" width="17.6" height="17.6" fill="#fff" stroke="#ff0000" stroke-width="5.5"/><rect x="2167.77" y="633.6" width="17.6" height="17.6" fill="#fff" stroke="#ff0000" stroke-width="5.5"/><rect x="2199.8" y="638.5" width="17.6" height="17.6" fill="#fff" stroke="#ff0000" stroke-width="5.5"/><rect x="2231.82" y="640.7" width="17.6" height="17.6" fill="#fff" stroke="#ff0000" stroke-width="5.5"/><rect x="2263.85" y="641.7" width="17.6" height="17.6" fill="#fff" stroke="#ff0000" stroke-width="5.5"/><rect x="2295.88" y="639.5" width="17.6" height="17.6" fill="#fff" stroke="#ff0000" stroke-width="5.5"/><rect x="2327.9" y="636" width="17.6" height="17.6" fill="#fff" stroke="#ff0000" stroke-width="5.5"/><rect x="2359.92" y="631.2" width="17.6" height="17.6" fill="#fff" stroke="#ff0000" stroke-width="5.5"/><rect x="2391.95" y="628.1" width="17.6" height="17.6" fill="#fff" stroke="#ff0000" stroke-width="5.5"/><line x1="1440" y1="1126.7" x2="1472.03" y2="1126.7" stroke="#00ff00" stroke-width="3.5"/><line x1="1472.03" y1="1126.7" x2="1504.05" y2="1124.3" stroke="#00ff00" stroke-width="3.5"/><path fill="#00ff00" d="M1519.45 1123.17h3v3h-3z"/><path fill="#00ff00" d="M1550.94 1126.57h3v3h-3z"/><path fill="#00ff00" d="M1581.68 1136.56h3v3h-3z"/><path fill="#00ff00" d="M1615.02 1147.42h3v3h-3z"/><path fill="#00ff00" d="M1647.22 1151.8h3v3h-3z"/><path fill="#00ff00" d="M1678.84 1149.31h3v3h-3z"/><path fill="#00ff00" d="M1708.78 1136.52h3v3h-3z"/><path fill="#00ff00" d="M1739.93 1115.06h3v3h-3z"/><path fill="#00ff00" d="M1772.97 1091.94h3v3h-3z"/><path fill="#00ff00" d="M1807.19 1078.33h3v3h-3z"/><line x1="1824.3" y1="1077.2" x2="1856.33" y2="1089.1" stroke="#00ff00" stroke-width="3.5"/><line x1="1856.33" y1="1089.1" x2="1888.35" y2="1113" stroke="#00ff00" stroke-width="3.5"/><line x1="1888.35" y1="1113" x2="1920.38" y2="1122" stroke="#00ff00" stroke-width="3.5"/><line x1="1920.38" y1="1122" x2="1952.4" y2="1123.7" stroke="#00ff00" stroke-width="3.5"/><line x1="1952.4" y1="1123.7" x2="1984.42" y2="1109.3" stroke="#00ff00" stroke-width="3.5"/><line x1="1984.42" y1="1109.3" x2="2016.45" y2="1081.4" stroke="#00ff00" stroke-width="3.5"/><line x1="2016.45" y1="1081.4" x2="2048.47" y2="1036.9" stroke="#00ff00" stroke-width="3.5"/><line x1="2048.47" y1="1036.9" x2="2080.5" y2="988.6" stroke="#00ff00" stroke-width="3.5"/><line x1="2080.5" y1="988.6" x2="2112.53" y2="946.2" stroke="#00ff00" stroke-width="3.5"/><path fill="#00ff00" d="M2124.63 934.67h3v3h-3z"/><path fill="#00ff00" d="M2159.7 920.74h3v3h-3z"/><path fill="#00ff00" d="M2191.33 925.02h3v3h-3z"/><path fill="#00ff00" d="M2223.57 931.92h3v3h-3z"/><path fill="#00ff00" d="M2255.66 932.24h3v3h-3z"/><path fill="#00ff00" d="M2286.26 923.42h3v3h-3z"/><path fill="#00ff00" d="M2316.46 905.56h3v3h-3z"/><path fill="#00ff00" d="M2347.26 879.92h3v3h-3zM2353.63 873.85h3v3h-3z"/><path fill="#00ff00" d="M2379.11 849.24h3v3h-3zM2385.4 843.08h3v3h-3z"/><circle cx="1440" cy="1126.7" r="12.2" fill="#00ff00"/><circle cx="1472.03" cy="1126.7" r="12.2" fill="#00ff00"/><circle cx="1504.05" cy="1124.3" r="12.2" fill="#00ff00"/><circle cx="1536.08" cy="1125" r="9.3" fill="#fff" stroke="#00ff00" stroke-width="5.3"/><circle cx="1568.1" cy="1131" r="9.3" fill="#fff" stroke="#00ff00" stroke-width="5.3"/><circle cx="1600.12" cy="1146" r="9.3" fill="#fff" stroke="#00ff00" stroke-width="5.3"/><circle cx="1632.15" cy="1151.7" r="9.3" fill="#fff" stroke="#00ff00" stroke-width="5.3"/><circle cx="1664.17" cy="1154.8" r="9.3" fill="#fff" stroke="#00ff00" stroke-width="5.3"/><circle cx="1696.2" cy="1146.9" r="9.3" fill="#fff" stroke="#00ff00" stroke-width="5.3"/><circle cx="1728.22" cy="1126.7" r="9.3" fill="#fff" stroke="#00ff00" stroke-width="5.3"/><circle cx="1760.25" cy="1102.1" r="9.3" fill="#fff" stroke="#00ff00" stroke-width="5.3"/><circle cx="1792.28" cy="1082.6" r="9.3" fill="#fff" stroke="#00ff00" stroke-width="5.3"/><circle cx="1824.3" cy="1077.2" r="12.2" fill="#00ff00"/><circle cx="1856.33" cy="1089.1" r="12.2" fill="#00ff00"/><circle cx="1888.35" cy="1113" r="12.2" fill="#00ff00"/><circle cx="1920.38" cy="1122" r="12.2" fill="#00ff00"/><circle cx="1952.4" cy="1123.7" r="12.2" fill="#00ff00"/><circle cx="1984.42" cy="1109.3" r="12.2" fill="#00ff00"/><circle cx="2016.45" cy="1081.4" r="12.2" fill="#00ff00"/><circle cx="2048.47" cy="1036.9" r="12.2" fill="#00ff00"/><circle cx="2080.5" cy="988.6" r="12.2" fill="#00ff00"/><circle cx="2112.53" cy="946.2" r="12.2" fill="#00ff00"/><circle cx="2144.55" cy="922.6" r="9.3" fill="#fff" stroke="#00ff00" stroke-width="5.3"/><circle cx="2176.57" cy="921.9" r="12.2" fill="#00ff00"/><circle cx="2208.6" cy="931" r="9.3" fill="#fff" stroke="#00ff00" stroke-width="5.3"/><circle cx="2240.62" cy="935.7" r="9.3" fill="#fff" stroke="#00ff00" stroke-width="5.3"/><circle cx="2272.65" cy="931.9" r="9.3" fill="#fff" stroke="#00ff00" stroke-width="5.3"/><circle cx="2304.68" cy="917.1" r="9.3" fill="#fff" stroke="#00ff00" stroke-width="5.3"/><circle cx="2336.7" cy="892.9" r="9.3" fill="#fff" stroke="#00ff00" stroke-width="5.3"/><circle cx="2368.72" cy="862.4" r="9.3" fill="#fff" stroke="#00ff00" stroke-width="5.3"/><circle cx="2400.75" cy="831" r="9.3" fill="#fff" stroke="#00ff00" stroke-width="5.3"/><path fill="#0000ff" d="M1454 1583.38h3v3h-3zM1477.58 1553.29h3v3h-3zM1481.09 1545.22h3v3h-3zM1484.6 1537.15h3v3h-3zM1488.11 1529.08h3v3h-3zM1491.62 1521.01h3v3h-3zM1495.13 1512.94h3v3h-3zM1507.27 1479.48h3v3h-3zM1509.7 1471.03h3v3h-3zM1512.13 1462.57h3v3h-3zM1514.56 1454.11h3v3h-3zM1516.99 1445.65h3v3h-3zM1519.43 1437.2h3v3h-3zM1521.86 1428.74h3v3h-3zM1524.29 1420.28h3v3h-3zM1526.72 1411.82h3v3h-3zM1529.15 1403.37h3v3h-3zM1538.61 1368.03h3v3h-3zM1540.7 1359.49h3v3h-3zM1542.79 1350.94h3v3h-3zM1544.88 1342.39h3v3h-3zM1546.98 1333.84h3v3h-3zM1549.07 1325.3h3v3h-3zM1551.16 1316.75h3v3h-3zM1553.26 1308.2h3v3h-3zM1555.35 1299.65h3v3h-3zM1557.44 1291.11h3v3h-3zM1559.53 1282.56h3v3h-3zM1561.63 1274.01h3v3h-3zM1571.25 1237.28h3v3h-3zM1573.65 1228.81h3v3h-3zM1576.05 1220.34h3v3h-3zM1578.44 1211.88h3v3h-3zM1580.84 1203.41h3v3h-3zM1583.24 1194.94h3v3h-3zM1585.64 1186.48h3v3h-3zM1588.03 1178.01h3v3h-3zM1590.43 1169.54h3v3h-3zM1592.83 1161.07h3v3h-3zM1614.04 1126.89h3v3h-3zM1638.64 1127.84h3v3h-3zM1642.62 1135.69h3v3h-3zM1646.6 1143.54h3v3h-3zM1650.59 1151.38h3v3h-3zM1654.57 1159.23h3v3h-3zM1669.22 1191.1h3v3h-3zM1672.57 1199.23h3v3h-3zM1675.92 1207.37h3v3h-3zM1679.27 1215.51h3v3h-3zM1682.62 1223.65h3v3h-3zM1685.97 1231.78h3v3h-3zM1704.09 1268.57h3v3h-3zM1708.64 1276.11h3v3h-3zM1713.18 1283.65h3v3h-3zM1717.73 1291.18h3v3h-3zM1742.31 1315.4h3v3h-3zM1774.27 1315.36h3v3h-3zM1800.71 1289.39h3v3h-3zM1805.45 1281.98h3v3h-3zM1810.2 1274.57h3v3h-3zM1829.79 1239.05h3v3h-3zM1833.34 1231h3v3h-3zM1836.9 1222.95h3v3h-3zM1840.45 1214.9h3v3h-3zM1844 1206.84h3v3h-3zM1847.55 1198.79h3v3h-3zM1861.5 1166.42h3v3h-3zM1864.91 1158.3h3v3h-3zM1868.32 1150.19h3v3h-3zM1871.73 1142.08h3v3h-3zM1875.14 1133.97h3v3h-3zM1878.55 1125.85h3v3h-3zM1894.56 1090.33h3v3h-3zM1898.43 1082.42h3v3h-3zM1902.29 1074.52h3v3h-3zM1906.16 1066.61h3v3h-3zM1910.02 1058.71h3v3h-3zM1931.61 1025.45h3v3h-3zM1937.27 1018.72h3v3h-3zM1967 998.33h3v3h-3zM1999.5 996.06h3v3h-3zM2031.54 999.04h3v3h-3zM2063.44 996.24h3v3h-3zM2095.01 983.6h3v3h-3zM2126.7 963.05h3v3h-3zM2158.68 938.94h3v3h-3zM2190.61 913.69h3v3h-3zM2222.86 889.27h3v3h-3zM2254.97 867.76h3v3h-3zM2287.11 848.03h3v3h-3zM2319.26 830.46h3v3h-3zM2351.29 814.16h3v3h-3zM2383.53 800.04h3v3h-3z"/><rect x="1428.1" y="1586" width="23.8" height="23.8" fill="#0000ff"/><rect x="1460.12" y="1559.1" width="23.8" height="23.8" fill="#0000ff"/><rect x="1492.15" y="1485.5" width="23.8" height="23.8" fill="#0000ff"/><rect x="1524.17" y="1374.1" width="23.8" height="23.8" fill="#0000ff"/><rect x="1556.2" y="1243.3" width="23.8" height="23.8" fill="#0000ff"/><rect x="1588.22" y="1130.2" width="23.8" height="23.8" fill="#0000ff"/><rect x="1623.35" y="1104.8" width="17.6" height="17.6" fill="#fff" stroke="#0000ff" stroke-width="5.5"/><rect x="1655.38" y="1167.9" width="17.6" height="17.6" fill="#fff" stroke="#0000ff" stroke-width="5.5"/><rect x="1687.4" y="1245.7" width="17.6" height="17.6" fill="#fff" stroke="#0000ff" stroke-width="5.5"/><rect x="1719.42" y="1298.8" width="17.6" height="17.6" fill="#fff" stroke="#0000ff" stroke-width="5.5"/><rect x="1751.45" y="1317.9" width="17.6" height="17.6" fill="#fff" stroke="#0000ff" stroke-width="5.5"/><rect x="1783.48" y="1297.6" width="17.6" height="17.6" fill="#fff" stroke="#0000ff" stroke-width="5.5"/><rect x="1815.5" y="1247.6" width="17.6" height="17.6" fill="#fff" stroke="#0000ff" stroke-width="5.5"/><rect x="1847.53" y="1175" width="17.6" height="17.6" fill="#fff" stroke="#0000ff" stroke-width="5.5"/><rect x="1879.55" y="1098.8" width="17.6" height="17.6" fill="#fff" stroke="#0000ff" stroke-width="5.5"/><rect x="1911.58" y="1033.3" width="17.6" height="17.6" fill="#fff" stroke="#0000ff" stroke-width="5.5"/><rect x="1943.6" y="995.2" width="17.6" height="17.6" fill="#fff" stroke="#0000ff" stroke-width="5.5"/><rect x="1972.52" y="983.8" width="23.8" height="23.8" fill="#0000ff"/><rect x="2004.55" y="987.4" width="23.8" height="23.8" fill="#0000ff"/><rect x="2036.57" y="989.8" width="23.8" height="23.8" fill="#0000ff"/><rect x="2068.6" y="982.1" width="23.8" height="23.8" fill="#0000ff"/><rect x="2100.62" y="964.3" width="23.8" height="23.8" fill="#0000ff"/><rect x="2132.65" y="940.5" width="23.8" height="23.8" fill="#0000ff"/><rect x="2164.67" y="916" width="23.8" height="23.8" fill="#0000ff"/><rect x="2196.7" y="889.8" width="23.8" height="23.8" fill="#0000ff"/><rect x="2228.72" y="867.6" width="23.8" height="23.8" fill="#0000ff"/><rect x="2260.75" y="846.9" width="23.8" height="23.8" fill="#0000ff"/><rect x="2292.78" y="828.3" width="23.8" height="23.8" fill="#0000ff"/><rect x="2324.8" y="811.9" width="23.8" height="23.8" fill="#0000ff"/><rect x="2356.82" y="795.7" width="23.8" height="23.8" fill="#0000ff"/><rect x="2388.85" y="783.8" width="23.8" height="23.8" fill="#0000ff"/><g font-family="Liberation Sans, Arial, sans-serif" style="font-kerning:none"><text x="3.21" y="58.23" font-size="64.08" textLength="78.57" lengthAdjust="spacingAndGlyphs">(a)</text><text x="1311.42" y="60.4" font-size="63.76" textLength="80.47" lengthAdjust="spacingAndGlyphs">(b)</text><text x="173.8" y="99.8" font-size="52.5" textLength="88.66" lengthAdjust="spacingAndGlyphs" text-anchor="end">-1.4</text><text x="173.8" y="337.6" font-size="52.5" textLength="88.66" lengthAdjust="spacingAndGlyphs" text-anchor="end">-1.6</text><text x="173.8" y="576.2" font-size="52.5" textLength="88.66" lengthAdjust="spacingAndGlyphs" text-anchor="end">-1.8</text><text x="173.8" y="814" font-size="52.5" textLength="88.66" lengthAdjust="spacingAndGlyphs" text-anchor="end">-2.0</text><text x="173.8" y="1080.1" font-size="52.5" textLength="88.66" lengthAdjust="spacingAndGlyphs" text-anchor="end">-5.4</text><text x="173.8" y="1318.9" font-size="52.5" textLength="88.66" lengthAdjust="spacingAndGlyphs" text-anchor="end">-5.6</text><text x="173.8" y="1557.7" font-size="52.5" textLength="88.66" lengthAdjust="spacingAndGlyphs" text-anchor="end">-5.8</text><text x="1391.3" y="230.2" font-size="52.5" textLength="71.52" lengthAdjust="spacingAndGlyphs" text-anchor="end">3.8</text><text x="1391.3" y="493.22" font-size="52.5" textLength="71.52" lengthAdjust="spacingAndGlyphs" text-anchor="end">3.6</text><text x="1391.3" y="756.24" font-size="52.5" textLength="71.52" lengthAdjust="spacingAndGlyphs" text-anchor="end">3.4</text><text x="1391.3" y="1019.26" font-size="52.5" textLength="71.52" lengthAdjust="spacingAndGlyphs" text-anchor="end">3.2</text><text x="1391.3" y="1282.28" font-size="52.5" textLength="71.52" lengthAdjust="spacingAndGlyphs" text-anchor="end">3.0</text><text x="1391.3" y="1545.3" font-size="52.5" textLength="71.52" lengthAdjust="spacingAndGlyphs" text-anchor="end">2.8</text><text x="222" y="1741.2" font-size="52.5" textLength="28.61" lengthAdjust="spacingAndGlyphs" text-anchor="middle">0</text><text x="1439.3" y="1733.7" font-size="52.5" textLength="28.61" lengthAdjust="spacingAndGlyphs" text-anchor="middle">0</text><text x="350" y="1741.2" font-size="52.5" textLength="28.61" lengthAdjust="spacingAndGlyphs" text-anchor="middle">1</text><text x="1567.4" y="1733.7" font-size="52.5" textLength="28.61" lengthAdjust="spacingAndGlyphs" text-anchor="middle">1</text><text x="478" y="1741.2" font-size="52.5" textLength="28.61" lengthAdjust="spacingAndGlyphs" text-anchor="middle">2</text><text x="1695.5" y="1733.7" font-size="52.5" textLength="28.61" lengthAdjust="spacingAndGlyphs" text-anchor="middle">2</text><text x="606" y="1741.2" font-size="52.5" textLength="28.61" lengthAdjust="spacingAndGlyphs" text-anchor="middle">3</text><text x="1823.6" y="1733.7" font-size="52.5" textLength="28.61" lengthAdjust="spacingAndGlyphs" text-anchor="middle">3</text><text x="734" y="1741.2" font-size="52.5" textLength="28.61" lengthAdjust="spacingAndGlyphs" text-anchor="middle">4</text><text x="1951.7" y="1733.7" font-size="52.5" textLength="28.61" lengthAdjust="spacingAndGlyphs" text-anchor="middle">4</text><text x="862" y="1741.2" font-size="52.5" textLength="28.61" lengthAdjust="spacingAndGlyphs" text-anchor="middle">5</text><text x="2079.8" y="1733.7" font-size="52.5" textLength="28.61" lengthAdjust="spacingAndGlyphs" text-anchor="middle">5</text><text x="990" y="1741.2" font-size="52.5" textLength="28.61" lengthAdjust="spacingAndGlyphs" text-anchor="middle">6</text><text x="2207.9" y="1733.7" font-size="52.5" textLength="28.61" lengthAdjust="spacingAndGlyphs" text-anchor="middle">6</text><text x="1118" y="1741.2" font-size="52.5" textLength="28.61" lengthAdjust="spacingAndGlyphs" text-anchor="middle">7</text><text x="2336" y="1733.7" font-size="52.5" textLength="28.61" lengthAdjust="spacingAndGlyphs" text-anchor="middle">7</text><text x="606.95" y="1816.2" font-size="70" textLength="209.98" lengthAdjust="spacingAndGlyphs">slip / &#197;</text><text x="1826.07" y="1814.9" font-size="70" textLength="208.57" lengthAdjust="spacingAndGlyphs">slip / &#197;</text><text transform="translate(70.2 1119.63) rotate(-90)" x="0" y="0" font-size="66.86" textLength="495.81" lengthAdjust="spacingAndGlyphs">MO energies / eV</text><text transform="translate(1302.6 1015.78) rotate(-90)" x="0" y="0" font-size="72.68" textLength="45.41" lengthAdjust="spacingAndGlyphs">E</text><text transform="translate(1321.22 972.03) rotate(-90)" x="0" y="0" font-size="49.01" textLength="136.42" lengthAdjust="spacingAndGlyphs">S0-Sn</text><text transform="translate(1302.6 817.4) rotate(-90)" x="0" y="0" font-size="72.68" textLength="121.7" lengthAdjust="spacingAndGlyphs">/ eV</text><text x="293.83" y="160.4" font-size="61.86" textLength="77.96" lengthAdjust="spacingAndGlyphs" font-weight="bold">US</text><text x="290.04" y="802.42" font-size="59.62" textLength="80.73" lengthAdjust="spacingAndGlyphs" font-weight="bold">UA</text><text x="294.58" y="954.91" font-size="60.45" textLength="81.73" lengthAdjust="spacingAndGlyphs" font-weight="bold">OS</text><text x="262.84" y="1595.11" font-size="60.73" textLength="86.28" lengthAdjust="spacingAndGlyphs" font-weight="bold">OA</text><text x="1446" y="231.42" font-size="59.89" textLength="36.96" lengthAdjust="spacingAndGlyphs" font-weight="bold" fill="#ff0000">S</text><text x="1484.72" y="247.72" font-size="39.22" textLength="24.97" lengthAdjust="spacingAndGlyphs" font-weight="bold" fill="#ff0000">d</text><text x="1446" y="657.3" font-size="61.16" textLength="36.96" lengthAdjust="spacingAndGlyphs" font-weight="bold" fill="#000000">S</text><text x="1483.53" y="673.37" font-size="39.15" textLength="22.35" lengthAdjust="spacingAndGlyphs" font-weight="bold" fill="#000000">c</text><text x="1450.49" y="1081.6" font-size="61.44" textLength="37.3" lengthAdjust="spacingAndGlyphs" font-weight="bold" fill="#00ff00">S</text><text x="1489.22" y="1097.5" font-size="40.85" textLength="24.85" lengthAdjust="spacingAndGlyphs" font-weight="bold" fill="#00ff00">b</text><text x="1491.4" y="1631.21" font-size="60.88" textLength="37.07" lengthAdjust="spacingAndGlyphs" font-weight="bold" fill="#0000ff">S</text><text x="1529.91" y="1647.21" font-size="40.34" textLength="20.65" lengthAdjust="spacingAndGlyphs" font-weight="bold" fill="#0000ff">a</text></g></svg></body></html>
